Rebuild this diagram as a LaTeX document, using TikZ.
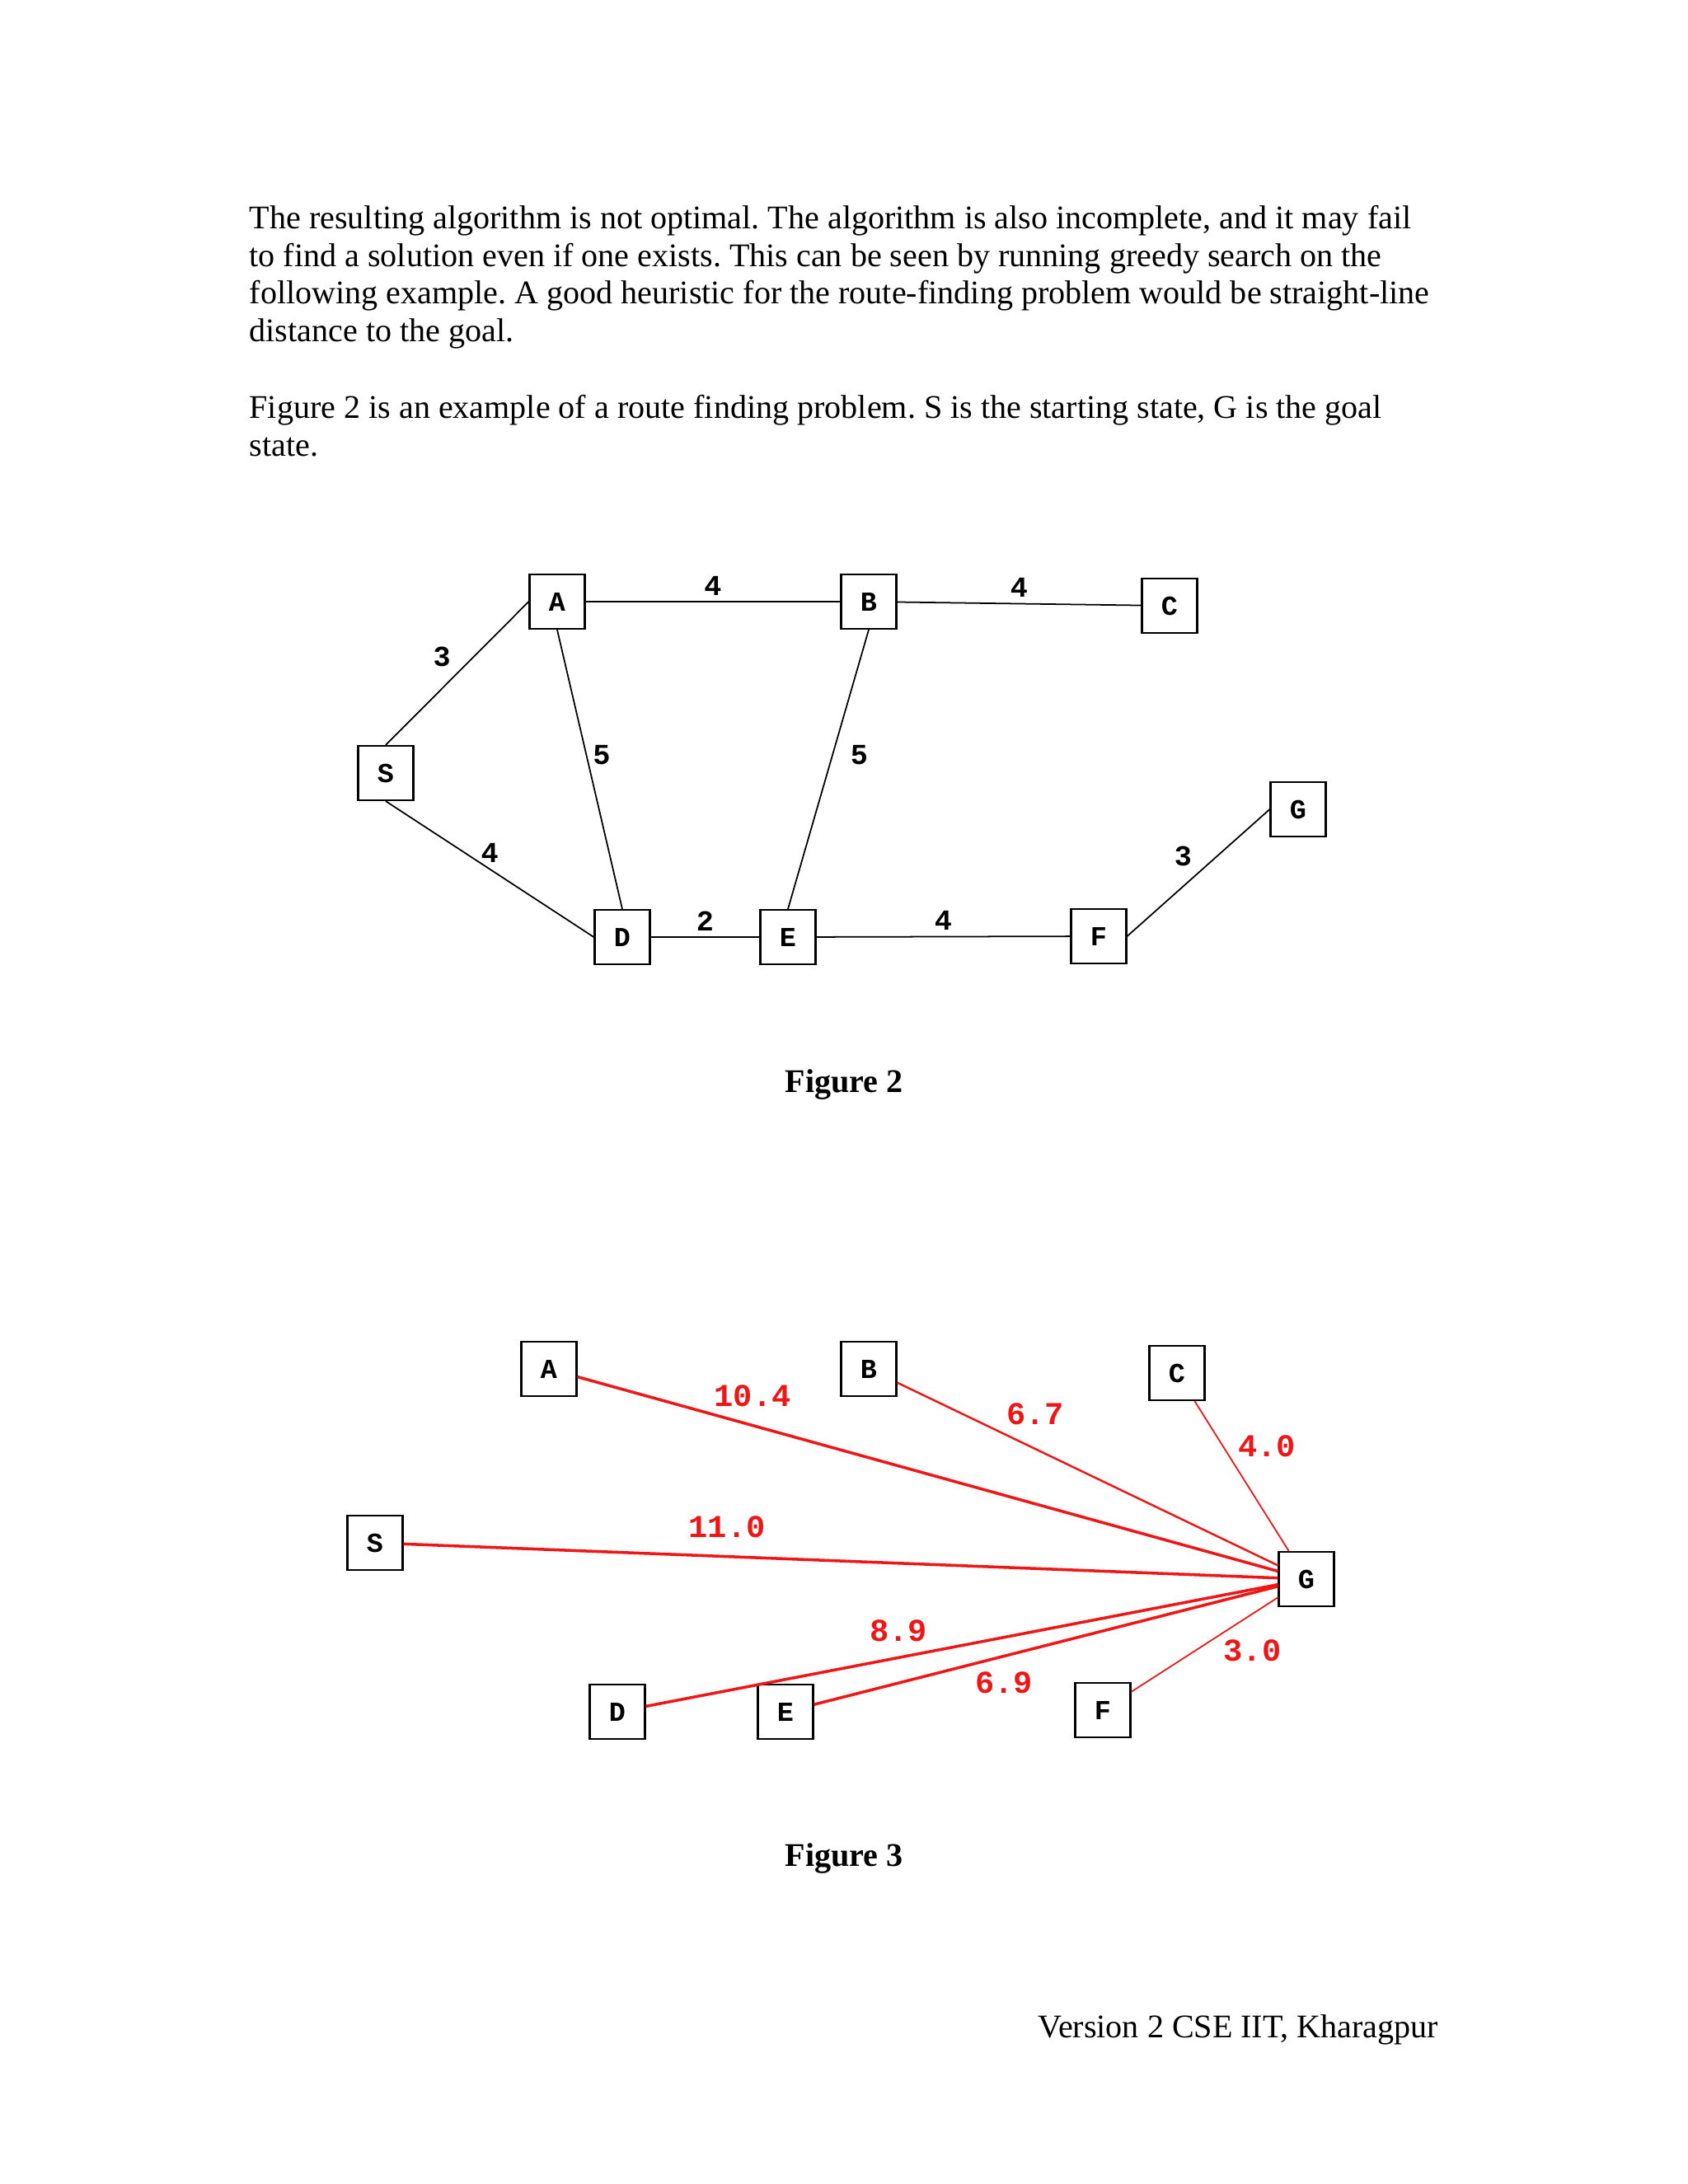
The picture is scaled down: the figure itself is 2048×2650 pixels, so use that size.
\documentclass[tikz,border=0pt]{standalone}
\usepackage{fontspec}
\setmainfont{Liberation Serif}
\newfontfamily\boxfont{Liberation Mono}
\usetikzlibrary{positioning}
\frenchspacing
\definecolor{hred}{RGB}{238,22,22}
\tikzset{
  city/.style={draw, line width=0.6pt, minimum width=0.67cm, minimum height=0.66cm,
               inner sep=0pt, font=\boxfont\bfseries\fontsize{9.5}{9.5}\selectfont},
  road/.style={line width=0.5pt},
  cost/.style={font=\boxfont\bfseries\fontsize{10}{10}\selectfont, inner sep=2pt},
  hline/.style={draw=hred, line width=1pt},
  hthin/.style={draw=hred, line width=0.5pt},
  hval/.style={text=hred, font=\boxfont\bfseries\fontsize{11}{11}\selectfont, inner sep=2pt},
  para/.style={anchor=base west, inner sep=0pt, font=\fontsize{11.4}{13}\selectfont},
  caption/.style={anchor=base, inner sep=0pt, font=\bfseries\fontsize{11.4}{13}\selectfont},
}
\begin{document}
\begin{tikzpicture}[x=0.01cm, y=-0.01cm]
  \useasboundingbox[fill=white] (0,0) rectangle (2048,2650);
  % body text
  \node[para] (par1) at (302,277) {The resulting algorithm is not optimal. The algorithm is also incomplete, and it may fail};
  \node[para] (par2) at (302,323) {to find a solution even if one exists. This can be seen by running greedy search on the};
  \node[para] (par3) at (302,368) {following example. A good heuristic for the route-finding problem would be straight-line};
  \node[para] (par4) at (302,414) {distance to the goal.};
  \node[para] (par5) at (302,507) {Figure 2 is an example of a route finding problem. S is the starting state, G is the goal};
  \node[para] (par6) at (302,553) {state.};

  % Figure 2: the road map
  \node[city] (A) at (676,730) {A};
  \node[city] (B) at (1054,730) {B};
  \node[city] (C) at (1419,735) {C};
  \node[city] (S) at (468,938) {S};
  \node[city] (G) at (1575,982) {G};
  \node[city] (D) at (755,1137) {D};
  \node[city] (E) at (956,1137) {E};
  \node[city] (F) at (1333,1136) {F};
  \draw[road] (A) -- node[cost, above] {4} (B);
  \draw[road] (B) -- node[cost, above] {4} (C);
  \draw[road] (S.north) -- node[cost, above left] {3} (A.west);
  \draw[road] (A.south) -- node[cost, pos=.45, right] {5} (D.north);
  \draw[road] (B.south) -- node[cost, pos=.45, right=4pt] {5} (E.north);
  \draw[road] (S.south) -- node[cost, above] {4} (D.west);
  \draw[road] (D) -- node[cost, above] {2} (E);
  \draw[road] (E) -- node[cost, above] {4} (F);
  \draw[road] (F.east) -- node[cost, above left] {3} (G.west);
  \node[caption] (cap2) at (1024,1325) {Figure 2};

  % Figure 3: straight-line distances to G
  \node[city] (hA) at (666,1661) {A};
  \node[city] (hB) at (1054,1661) {B};
  \node[city] (hC) at (1428,1666) {C};
  \node[city] (hS) at (455,1872) {S};
  \node[city] (hG) at (1585,1916) {G};
  \node[city] (hD) at (749,2077) {D};
  \node[city] (hE) at (953,2077) {E};
  \node[city] (hF) at (1338,2075) {F};
  \draw[hline] (hA) -- node[hval, pos=.25, above=4pt] {10.4} (hG);
  \draw[hthin, line width=0.7pt] (hB) -- node[hval, pos=.27, above right=0pt] {6.7} (hG);
  \draw[hthin] (hC) -- node[hval, pos=.3, right=3pt] {4.0} (hG);
  \draw[hline] (hS) -- node[hval, pos=.37, above=4pt] {11.0} (hG);
  \draw[hline] (hD) -- node[hval, pos=.4, above=3pt] {8.9} (hG);
  \draw[hline] (hE) -- node[hval, pos=.41, below=3pt] {6.9} (hG);
  \draw[hthin] (hF) -- node[hval, pos=.6, below right=-1pt] {3.0} (hG);
  \node[caption] (cap3) at (1024,2264) {Figure 3};

  \node[para, anchor=base east] (foot) at (1746,2472) {Version 2 CSE IIT, Kharagpur};
\end{tikzpicture}
\end{document}
